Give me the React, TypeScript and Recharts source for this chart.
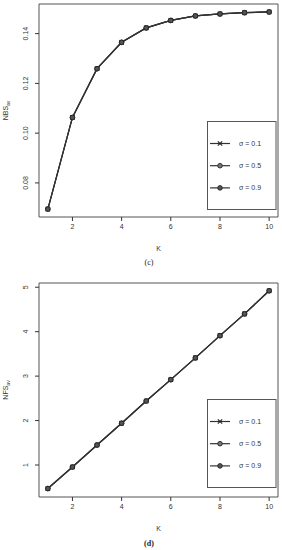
import React from 'react';
import { LineChart, Line, XAxis, YAxis, ReferenceArea, Legend, Label } from 'recharts';

const kValues = [1, 2, 3, 4, 5, 6, 7, 8, 9, 10];
const nbsSigma01 = [0.0695, 0.1063, 0.1259, 0.1365, 0.1423, 0.1453, 0.1471, 0.1479, 0.1484, 0.1487];
const nbsSigma05 = [0.0695, 0.1063, 0.1259, 0.1365, 0.1423, 0.1453, 0.1471, 0.1479, 0.1484, 0.1487];
const nbsSigma09 = [0.0695, 0.1063, 0.1259, 0.1365, 0.1423, 0.1453, 0.1471, 0.1479, 0.1484, 0.1487];
const nfsSigma01 = [0.47, 0.955, 1.45, 1.94, 2.44, 2.92, 3.41, 3.91, 4.4, 4.92];
const nfsSigma05 = [0.47, 0.955, 1.45, 1.94, 2.44, 2.92, 3.41, 3.91, 4.4, 4.92];
const nfsSigma09 = [0.47, 0.955, 1.45, 1.94, 2.44, 2.92, 3.41, 3.91, 4.4, 4.92];
const sigmaLabels = ['σ = 0.1', 'σ = 0.5', 'σ = 0.9'];
const xTicks = [2, 4, 6, 8, 10];
const xDomain: [number, number] = [0.64, 10.36];
const nbsTicks = [0.08, 0.1, 0.12, 0.14];
const nfsTicks = [1, 2, 3, 4, 5];

const INK = '#333';
const FONT = '"Liberation Sans", Arial, sans-serif';

const nbsData = kValues.map((k, i) => ({ k, s1: nbsSigma01[i], s5: nbsSigma05[i], s9: nbsSigma09[i] }));
const nfsData = kValues.map((k, i) => ({ k, s1: nfsSigma01[i], s5: nfsSigma05[i], s9: nfsSigma09[i] }));

const Marker = ({ cx, cy, kind }: { cx: number; cy: number; kind: number }) => {
  if (kind === 0) {
    return (
      <g stroke="#222" strokeWidth={1.1}>
        <line x1={cx - 2.2} y1={cy - 2.2} x2={cx + 2.2} y2={cy + 2.2} />
        <line x1={cx - 2.2} y1={cy + 2.2} x2={cx + 2.2} y2={cy - 2.2} />
      </g>
    );
  }
  return <circle cx={cx} cy={cy} r={2.3} fill={kind === 1 ? '#777' : '#555'} stroke="#222" strokeWidth={0.9} />;
};

const YTick = (props: any) => {
  const { x, y, payload, fmt } = props;
  const tx = x - 5;
  return (
    <text x={tx} y={y} transform={`rotate(-90 ${tx} ${y})`} textAnchor="middle" fontSize={7} fill={INK} fontFamily={FONT}>
      {fmt(payload.value)}
    </text>
  );
};

const LegendBox = () => (
  <div style={{ position: 'relative', width: 69, height: 89 }}>
    <svg width={72} height={89} style={{ position: 'absolute', left: 0, top: 0 }}>
      <rect x={70} y={0.5} width={1.6} height={88} fill="#aaa" />
      <rect x={0.5} y={0.5} width={68.5} height={88} fill="#fff" stroke="#555" strokeWidth={1} />
      {sigmaLabels.map((s, i) => {
        const cy = 22.5 + i * 22.2;
        return (
          <g key={s}>
            <line x1={3} y1={cy} x2={23} y2={cy} stroke={INK} strokeWidth={1.2} />
            <Marker cx={13} cy={cy} kind={i} />
            <text x={32} y={cy + 2.5} fontSize={7} fill={INK} fontFamily={FONT}>{s}</text>
          </g>
        );
      })}
    </svg>
  </div>
);

interface PanelProps {
  data: any[];
  height: number;
  top: number;
  bottom: number;
  yDomain: [number, number];
  yTicks: number[];
  fmt: (v: number) => string;
  yName: string;
  legendTop: number;
}

const Panel = ({ data, height, top, bottom, yDomain, yTicks, fmt, yName, legendTop }: PanelProps) => (
  <LineChart width={282} height={height} data={data} margin={{ top, right: 4, bottom, left: 9 }}>
    <XAxis
      dataKey="k"
      type="number"
      domain={xDomain}
      ticks={xTicks}
      allowDataOverflow
      axisLine={false}
      tickLine={{ stroke: INK }}
      tickSize={4}
      height={30}
      tick={{ fontSize: 7, fill: INK, fontFamily: FONT }}
      tickMargin={3}
    >
      <Label value="K" position="insideBottom" offset={-4} fontSize={7} fill={INK} fontFamily={FONT} />
    </XAxis>
    <YAxis
      type="number"
      domain={yDomain}
      ticks={yTicks}
      allowDataOverflow
      axisLine={false}
      tickLine={{ stroke: INK }}
      tickSize={4}
      width={30}
      tick={<YTick fmt={fmt} />}
      label={({ viewBox }: any) => {
        const cx = 8;
        const cy = viewBox.y + viewBox.height / 2;
        return (
          <text x={cx} y={cy} transform={`rotate(-90 ${cx} ${cy})`} textAnchor="middle" fontSize={7} fill={INK} fontFamily={FONT}>
            {yName}
            <tspan fontSize={5} dy={2}>av</tspan>
          </text>
        );
      }}
    />
    <ReferenceArea
      x1={xDomain[0]}
      x2={xDomain[1]}
      y1={yDomain[0]}
      y2={yDomain[1]}
      fill="none"
      fillOpacity={0}
      stroke="#555"
      strokeWidth={1}
      strokeOpacity={1}
      ifOverflow="visible"
    />
    {['s1', 's5', 's9'].map((key, i) => (
      <Line
        key={key}
        dataKey={key}
        name={sigmaLabels[i]}
        stroke={INK}
        strokeWidth={1.2}
        isAnimationActive={false}
        dot={(p: any) => <Marker key={`${key}-${p.index}`} cx={p.cx} cy={p.cy} kind={i} />}
      />
    ))}
    <Legend
      layout="vertical"
      align="center"
      verticalAlign="middle"
      content={() => <LegendBox />}
      wrapperStyle={{ left: 207, top: legendTop, width: 72, height: 89 }}
    />
  </LineChart>
);

const Caption = ({ text, top, bold }: { text: string; top: number; bold?: boolean }) => (
  <div
    style={{
      position: 'absolute', left: 0, width: 298, top, textAlign: 'center',
      fontFamily: '"Liberation Serif", serif', fontSize: 8, fontWeight: bold ? 700 : 400, color: '#222', lineHeight: '10px',
    }}
  >
    {text}
  </div>
);

export default function App() {
  return (
    <div style={{ position: 'absolute', left: 0, top: 0, width: 282, height: 550, background: '#fff', overflow: 'hidden' }}>
      <div style={{ position: 'absolute', left: 0, top: 0 }}>
        <Panel
          data={nbsData}
          height={272}
          top={4}
          bottom={25}
          yDomain={[0.0663, 0.1519]}
          yTicks={nbsTicks}
          fmt={(v) => v.toFixed(2)}
          yName="NBS"
          legendTop={121}
        />
      </div>
      <Caption text="(c)" top={258} />
      <div style={{ position: 'absolute', left: 0, top: 272 }}>
        <Panel
          data={nfsData}
          height={278}
          top={11}
          bottom={23}
          yDomain={[0.28, 5.095]}
          yTicks={nfsTicks}
          fmt={(v) => String(v)}
          yName="NFS"
          legendTop={127}
        />
      </div>
      <Caption text="(d)" top={539} bold />
    </div>
  );
}
